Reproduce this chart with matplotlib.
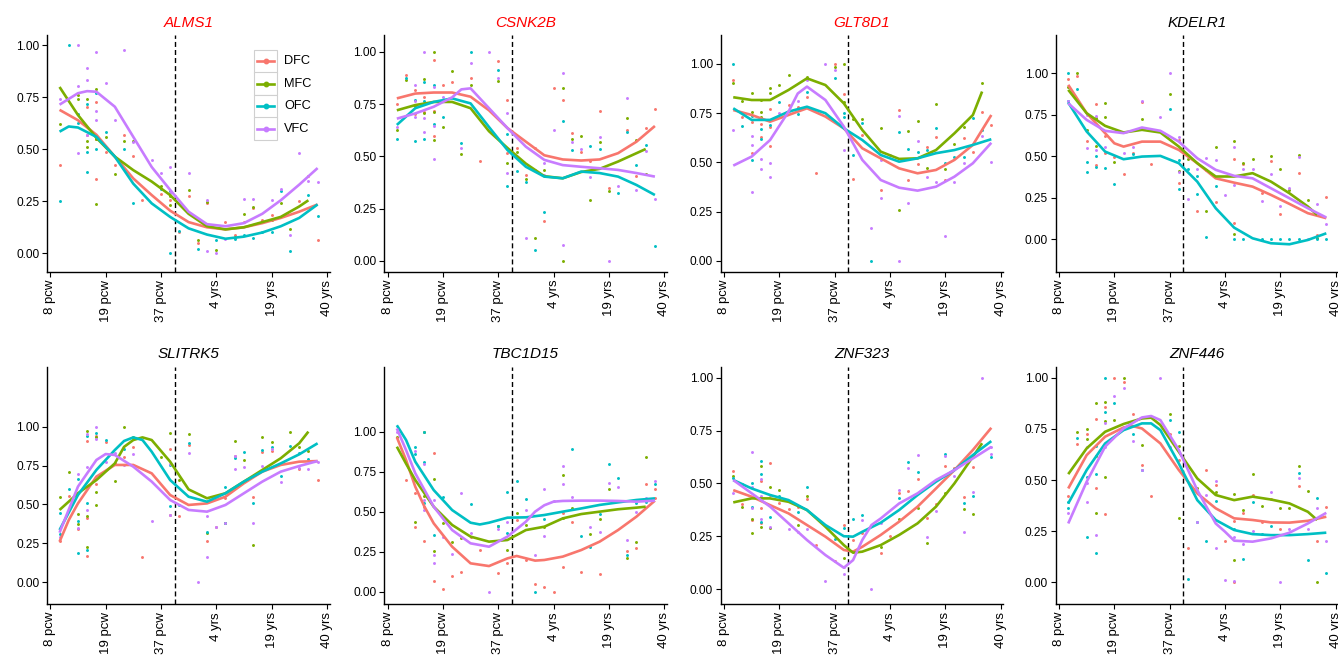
import matplotlib
matplotlib.use("Agg")
import matplotlib.pyplot as plt
from matplotlib.patches import Rectangle
from matplotlib.lines import Line2D

plt.rcParams['font.family'] = ['Liberation Sans', 'DejaVu Sans']

# ---------------- data ----------------
regions = ["DFC", "MFC", "OFC", "VFC"]
region_colors = ["#F8766D", "#7CAE00", "#00BFC4", "#C77CFF"]
age_ticks = ["8 pcw", "19 pcw", "37 pcw", "4 yrs", "19 yrs", "40 yrs"]
birth_pos = 2.25          # position of the birth line on the age axis
sample_step = 1 / 6       # samples sit on a grid of 1/6 of a tick interval (index k)

genes = ["ALMS1", "CSNK2B", "GLT8D1", "KDELR1", "SLITRK5", "TBC1D15", "ZNF323", "ZNF446"]
title_colors = ["red", "red", "red", "black", "black", "black", "black", "black"]

# scatter points per gene: region -> [(sample index k, scaled expression)]
ALMS1_points = {
    "DFC": [(1,.425),(4,.705),(4,.57),(5,.73),(5,.55),(5,.355),(6,.485),(7,.425),(8,.57),(9,.47),(10,.255),(12,.285),(13,.255),(14,.10),(15,.275),(16,.05),(17,.24),(19,.15),(20,.09),(21,.15),(22,.22),(23,.16),(24,.185),(27,.25),(28,.37),(29,.065)],
    "MFC": [(1,.62),(3,.76),(3,.74),(4,.74),(4,.54),(4,.51),(5,.79),(5,.55),(5,.235),(6,.56),(7,.38),(8,.54),(9,.54),(12,.325),(13,.275),(13,.23),(15,.305),(16,.065),(17,.245),(18,.015),(20,.08),(21,.19),(22,.225),(24,.16),(25,.24),(26,.115)],
    "OFC": [(1,.25),(2,1.0),(3,.67),(3,.625),(4,.72),(4,.485),(4,.39),(5,.77),(5,.50),(6,.585),(8,.50),(9,.24),(12,.31),(13,.30),(13,.0),(14,.105),(16,.02),(18,.065),(20,.067),(21,.09),(22,.075),(23,.10),(24,.10),(25,.30),(26,.01),(28,.28),(29,.18)],
    "VFC": [(1,.74),(3,1.0),(3,.805),(3,.48),(4,.89),(4,.835),(4,.57),(5,.97),(5,.685),(5,.64),(6,.82),(7,.64),(8,.98),(9,.535),(11,.45),(12,.385),(13,.415),(13,.29),(15,.385),(17,.255),(17,.01),(18,.0),(19,.067),(21,.26),(22,.26),(24,.255),(25,.31),(26,.09),(27,.48),(28,.35),(29,.345)],
}
CSNK2B_points = {
    "DFC": [(1,.75),(2,.89),(3,.815),(3,.70),(4,.785),(4,.71),(5,.96),(5,.715),(5,.595),(6,.84),(7,.855),(9,.875),(10,.48),(12,.955),(13,.77),(13,.515),(14,.54),(15,.41),(16,.54),(17,.19),(18,.825),(19,.77),(20,.61),(21,.52),(22,.48),(23,.715),(24,.35),(26,.625),(27,.405),(28,.635),(29,.725)],
    "MFC": [(1,.625),(2,.865),(3,.74),(4,.87),(4,.705),(5,1.0),(5,.71),(5,.58),(6,.64),(7,.91),(8,.51),(9,.84),(12,.86),(13,.47),(14,.52),(15,.39),(16,.11),(17,.435),(19,.825),(19,.0),(20,.585),(21,.597),(22,.29),(23,.57),(24,.335),(26,.685),(27,.58),(28,.415)],
    "OFC": [(1,.585),(2,.875),(3,.77),(3,.575),(4,.855),(4,.765),(4,.585),(5,.84),(5,.655),(6,.69),(8,.565),(9,1.0),(12,.915),(13,.605),(13,.36),(14,.43),(15,.375),(16,.05),(17,.235),(19,.67),(20,.53),(22,.55),(23,.535),(25,.325),(26,.615),(27,.46),(28,.555),(29,.073)],
    "VFC": [(1,.64),(3,.84),(3,.765),(3,.69),(4,1.0),(4,.685),(4,.615),(5,.83),(5,.645),(5,.485),(6,.785),(8,.54),(9,.945),(11,1.0),(12,.875),(13,.705),(13,.42),(15,.11),(16,.435),(17,.47),(17,.41),(18,.625),(19,.90),(19,.076),(20,.57),(21,.535),(22,.40),(23,.59),(24,.0),(25,.36),(26,.78),(27,.34),(28,.525),(29,.295)],
}
GLT8D1_points = {
    "DFC": [(1,.92),(2,.733),(3,.707),(3,.547),(4,.694),(4,.631),(5,.77),(5,.682),(5,.584),(7,.792),(8,.78),(9,.834),(10,.445),(12,1.0),(13,.846),(14,.418),(15,.64),(17,.36),(19,.766),(20,.411),(21,.494),(22,.58),(23,.631),(24,.411),(26,.623),(27,.555),(28,.755),(29,.69)],
    "MFC": [(1,.905),(2,.81),(3,.855),(3,.758),(4,.817),(4,.758),(4,.733),(5,.876),(5,.851),(6,.893),(7,.944),(9,.932),(12,.986),(13,1.0),(13,.807),(14,.72),(15,.721),(17,.673),(19,.259),(20,.66),(21,.712),(22,.474),(23,.795),(24,.467),(25,.594),(26,.682),(28,.905)],
    "OFC": [(1,1.0),(2,.685),(3,.736),(3,.513),(4,.668),(4,.618),(5,.69),(6,.809),(8,.746),(9,.86),(12,.927),(13,.75),(13,.729),(14,.538),(15,.70),(16,.0),(19,.653),(20,.569),(21,.552),(22,.563),(23,.673),(24,.496),(25,.53),(26,.53),(27,.724),(28,.665)],
    "VFC": [(1,.665),(3,.635),(3,.59),(3,.352),(4,.516),(4,.465),(5,.496),(5,.425),(6,.753),(7,.761),(8,.81),(9,.92),(11,1.0),(12,.97),(13,.563),(16,.166),(17,.513),(17,.318),(18,.538),(19,.736),(19,.0),(20,.293),(21,.611),(22,.425),(23,.403),(24,.129),(25,.40),(26,.499),(28,.635),(29,.504)],
}
KDELR1_points = {
    "DFC": [(1,.966),(2,.986),(3,.594),(4,.815),(4,.448),(5,.622),(5,.518),(6,.498),(7,.394),(8,.518),(9,.827),(10,.452),(13,.598),(13,.337),(15,.173),(16,.418),(17,.223),(19,.482),(19,.10),(20,.452),(22,.281),(23,.474),(24,.151),(26,.402),(28,.026),(29,.253)],
    "MFC": [(1,.916),(2,1.0),(3,.655),(4,.733),(4,.564),(5,.819),(5,.735),(6,.468),(9,.725),(12,.873),(13,.412),(14,.482),(16,.173),(17,.558),(19,.592),(19,.032),(20,.462),(21,.482),(23,.504),(24,.422),(25,.297),(26,.508),(27,.237),(28,.01)],
    "OFC": [(1,1.0),(1,.83),(2,.904),(3,.466),(3,.404),(4,.502),(4,.434),(5,.428),(6,.333),(8,.514),(9,.669),(12,.783),(13,.478),(13,.303),(14,.422),(15,.382),(15,.273),(16,.012),(17,.321),(19,0),(20,0),(22,0),(23,0),(24,0),(25,0),(26,0),(28,0),(29,0)],
    "VFC": [(1,.83),(3,.749),(3,.552),(4,.745),(4,.538),(5,.558),(7,.518),(8,.556),(9,.835),(11,.739),(12,1.0),(13,.618),(13,.408),(14,.241),(15,.422),(16,.488),(17,.478),(18,.267),(19,.558),(19,.327),(20,.422),(21,.422),(22,.231),(23,.392),(24,.203),(25,.307),(26,.498),(27,0),(28,.211),(29,.09)],
}
SLITRK5_points = {
    "DFC": [(1,.268),(2,.557),(3,.34),(4,.908),(4,.411),(4,.169),(5,.94),(5,.63),(6,.904),(7,.769),(8,.807),(9,.871),(10,.161),(13,.854),(13,.433),(14,.426),(15,.882),(17,.266),(18,.353),(19,.54),(20,.812),(22,.546),(23,.839),(24,.844),(27,.726),(29,.657)],
    "MFC": [(1,.546),(2,.711),(3,.439),(3,.375),(4,.974),(4,.426),(4,.225),(5,.931),(5,.578),(5,.497),(7,.651),(8,1.0),(9,.931),(12,.807),(13,.957),(14,.657),(15,.953),(17,.319),(19,.379),(20,.91),(21,.786),(22,.24),(23,.936),(24,.904),(26,.968),(27,.867),(28,.846)],
    "OFC": [(1,.443),(1,.31),(2,.602),(3,.664),(3,.396),(3,.186),(4,.94),(4,.508),(4,.208),(5,.957),(6,.914),(8,.854),(13,.754),(13,.49),(14,.497),(15,.893),(17,.325),(19,.615),(19,.383),(20,.80),(21,.839),(22,.508),(23,.85),(24,.867),(25,.683),(26,.876),(27,.833),(28,.79)],
    "VFC": [(1,.289),(3,.696),(3,.347),(4,.955),(4,.743),(4,.465),(5,1.0),(5,.918),(6,.775),(7,.833),(8,.754),(9,.822),(11,.396),(13,.76),(13,.433),(15,.833),(16,0),(17,.426),(17,.161),(18,.353),(19,.379),(20,.812),(20,.726),(21,.743),(22,.379),(23,.747),(24,.854),(25,.642),(27,.732),(28,.726),(29,.771)],
}
TBC1D15_points = {
    "DFC": [(2,.698),(3,.615),(3,.402),(4,.531),(4,.319),(5,.869),(5,.069),(6,.019),(7,.098),(8,.125),(9,.344),(10,.26),(12,.115),(13,.181),(14,.448),(15,.198),(16,.048),(17,.031),(18,0),(19,.49),(19,.156),(20,.4375),(21,.125),(23,.108),(26,.256),(27,.271),(28,.673),(29,.642),(29,.583)],
    "MFC": [(1,.965),(3,.4375),(4,1.0),(4,.60),(5,.704),(5,.254),(6,.431),(7,.308),(8,.333),(12,.4125),(13,.26),(14,.49),(15,.417),(17,.402),(19,.729),(19,.458),(20,.521),(22,.36),(23,.456),(24,.64),(26,.208),(27,.308),(28,.844)],
    "OFC": [(3,.902),(3,.858),(4,1.0),(4,.808),(4,.552),(5,.354),(6,.594),(9,.548),(12,.41),(13,.621),(13,.369),(14,.694),(15,.577),(16,0),(17,.452),(20,.89),(21,.348),(22,.277),(23,.483),(24,.796),(25,.708),(26,.229),(27,.556),(28,.5625),(29,.673)],
    "VFC": [(1,1.0),(3,.881),(4,.798),(4,.573),(4,.51),(5,.573),(5,.229),(5,.181),(6,.34),(7,.235),(8,.615),(9,.369),(11,0),(12,.39),(13,.4375),(15,.51),(16,.229),(17,.644),(17,.35),(18,.567),(19,.785),(19,.673),(20,.59),(22,.402),(23,.375),(24,.677),(25,.652),(26,.323),(27,.5),(28,.588),(29,.694)],
}
ZNF323_points = {
    "DFC": [(1,.558),(2,.402),(3,.326),(4,.513),(4,.382),(4,.311),(5,.598),(5,.445),(6,.409),(7,.377),(8,.39),(9,.424),(10,.208),(12,.134),(13,.303),(14,.232),(15,.267),(17,.169),(18,.25),(19,.453),(20,.464),(21,.519),(22,.334),(23,.402),(24,.582),(25,.571),(26,.434),(27,.579)],
    "MFC": [(1,.536),(2,.39),(3,.33),(3,.267),(4,.584),(4,.292),(5,.484),(5,.287),(6,.468),(7,.418),(8,.303),(9,.442),(13,.145),(17,.197),(19,.33),(21,.382),(22,.216),(24,.456),(26,.377),(27,.353)],
    "OFC": [(1,.527),(2,.497),(3,.50),(3,.39),(4,.606),(4,.544),(4,.319),(5,.339),(6,.44),(8,.366),(9,.481),(12,.237),(13,.287),(14,.331),(15,.35),(19,.432),(20,.603),(21,.555),(24,.639),(25,.566),(26,.405),(27,.442),(29,.626)],
    "VFC": [(1,.456),(3,.647),(3,.484),(3,.382),(4,.519),(4,.44),(4,.33),(5,.295),(7,.284),(8,.271),(9,.282),(11,.038),(13,.106),(13,.069),(15,.326),(16,0),(17,.314),(19,.468),(20,.571),(21,.632),(22,.248),(23,.369),(24,.631),(25,.536),(26,.268),(27,.457),(28,1.0),(29,.673),(29,.639)],
}
ZNF446_points = {
    "DFC": [(1,.422),(2,.674),(3,.725),(4,.798),(4,.459),(5,.855),(5,.332),(6,1.0),(7,.98),(8,.822),(9,.573),(10,.423),(12,.723),(13,.598),(14,.166),(16,.549),(17,.476),(18,.204),(19,.301),(19,0),(20,.337),(21,.427),(22,.296),(23,.407),(24,.259),(26,.471),(28,.202),(29,.37)],
    "MFC": [(2,.733),(3,.749),(3,.699),(4,.878),(4,.617),(4,.337),(5,.883),(5,.79),(5,.516),(6,.796),(7,1.0),(9,.671),(12,.821),(13,.668),(13,.313),(15,.459),(17,.44),(19,.43),(19,.109),(20,.353),(21,.528),(22,.373),(24,.365),(25,.362),(26,.57),(27,.448),(28,0)],
    "OFC": [(1,.391),(1,.365),(2,.704),(3,.516),(3,.22),(4,.668),(4,.529),(4,.142),(5,1.0),(5,.831),(6,.875),(8,.725),(9,.549),(12,.796),(13,.736),(14,.015),(15,.296),(16,.202),(17,.40),(19,.26),(20,.112),(21,.391),(22,.236),(23,.277),(26,.533),(27,.109),(28,.414),(29,.044)],
    "VFC": [(1,.34),(3,.663),(3,.487),(3,.391),(4,.231),(5,.777),(5,.66),(6,.91),(7,.948),(8,.692),(9,.549),(11,1.0),(12,.66),(15,.296),(16,.427),(17,.497),(17,.166),(18,.011),(19,.22),(19,.006),(20,.19),(21,.251),(23,.44),(24,0),(25,.26),(26,.511),(27,.259),(28,.362),(29,.202)],
}

# smoothed trend per gene: region -> [(sample index k, value)]
ALMS1_smooth = {
    "DFC": [(1,.69),(3,.64),(5,.57),(7,.465),(9,.36),(11,.28),(13,.205),(15,.15),(17,.125),(19,.115),(21,.125),(23,.145),(25,.17),(27,.20),(29,.235)],
    "MFC": [(1,.80),(3,.665),(5,.555),(7,.465),(9,.40),(11,.345),(13,.28),(15,.19),(17,.13),(19,.115),(21,.125),(23,.15),(25,.175),(27,.225),(28,.255)],
    "OFC": [(1,.585),(2,.61),(3,.605),(5,.56),(7,.465),(9,.335),(11,.24),(13,.175),(15,.12),(17,.09),(19,.07),(21,.08),(23,.10),(25,.13),(27,.17),(29,.235)],
    "VFC": [(1,.715),(3,.77),(4,.78),(5,.777),(7,.705),(9,.56),(11,.415),(13,.305),(15,.20),(17,.14),(19,.13),(21,.145),(23,.19),(25,.255),(27,.33),(29,.41)],
}
CSNK2B_smooth = {
    "DFC": [(1,.777),(3,.80),(5,.805),(7,.805),(9,.785),(11,.72),(13,.635),(15,.57),(17,.505),(19,.485),(21,.48),(23,.485),(25,.515),(27,.57),(29,.645)],
    "MFC": [(1,.72),(3,.745),(5,.76),(7,.76),(9,.73),(11,.62),(13,.54),(15,.465),(17,.405),(19,.395),(21,.425),(23,.44),(25,.475),(27,.515),(28,.535)],
    "OFC": [(1,.65),(3,.73),(5,.76),(7,.777),(9,.753),(11,.64),(13,.53),(15,.45),(17,.403),(19,.395),(21,.427),(23,.42),(25,.403),(27,.363),(29,.315)],
    "VFC": [(1,.68),(3,.705),(5,.737),(7,.782),(8,.82),(9,.825),(11,.73),(13,.635),(15,.546),(17,.483),(19,.458),(21,.45),(23,.443),(25,.435),(27,.42),(29,.403)],
}
GLT8D1_smooth = {
    "DFC": [(1,.766),(3,.741),(5,.707),(7,.741),(9,.775),(11,.733),(13,.673),(15,.572),(17,.521),(19,.47),(21,.445),(23,.462),(25,.513),(27,.589),(29,.741)],
    "MFC": [(1,.831),(3,.817),(5,.817),(7,.868),(9,.927),(11,.893),(13,.80),(15,.665),(17,.555),(19,.518),(21,.521),(23,.563),(25,.648),(27,.741),(28,.86)],
    "OFC": [(1,.775),(3,.716),(5,.716),(7,.758),(9,.783),(11,.75),(13,.673),(15,.614),(17,.538),(19,.504),(21,.521),(23,.547),(25,.563),(27,.589),(29,.618)],
    "VFC": [(1,.484),(3,.53),(5,.614),(7,.758),(8,.85),(9,.885),(11,.817),(13,.682),(15,.513),(17,.411),(19,.372),(21,.357),(23,.377),(25,.428),(27,.496),(29,.60)],
}
KDELR1_smooth = {
    "DFC": [(1,.93),(3,.759),(5,.639),(6,.578),(7,.558),(9,.588),(11,.588),(13,.538),(15,.458),(17,.367),(19,.341),(21,.317),(23,.267),(25,.213),(27,.157),(29,.127)],
    "MFC": [(1,.90),(3,.759),(5,.683),(7,.643),(9,.659),(11,.643),(13,.558),(15,.458),(17,.378),(19,.378),(21,.398),(23,.347),(25,.277),(27,.197),(28,.147)],
    "OFC": [(1,.823),(3,.649),(5,.528),(7,.482),(9,.498),(11,.502),(13,.458),(15,.347),(17,.187),(19,.07),(21,.006),(23,-.024),(25,-.03),(27,-.004),(29,.036)],
    "VFC": [(1,.819),(3,.719),(5,.653),(7,.639),(9,.673),(11,.653),(13,.588),(15,.488),(17,.418),(19,.382),(21,.367),(23,.307),(25,.247),(27,.187),(29,.131)],
}
SLITRK5_smooth = {
    "DFC": [(1,.261),(2,.40),(3,.507),(5,.679),(7,.754),(9,.754),(11,.70),(13,.561),(15,.497),(17,.507),(19,.55),(21,.636),(23,.711),(25,.754),(27,.775),(29,.779)],
    "MFC": [(1,.465),(3,.572),(5,.657),(7,.764),(8,.87),(9,.914),(10,.931),(11,.914),(13,.775),(15,.597),(17,.54),(19,.572),(21,.647),(23,.722),(25,.797),(27,.893),(28,.968)],
    "OFC": [(1,.336),(3,.561),(5,.722),(7,.85),(8,.908),(9,.931),(10,.914),(11,.839),(13,.657),(15,.55),(17,.518),(19,.572),(21,.647),(23,.711),(25,.764),(27,.822),(29,.893)],
    "VFC": [(1,.319),(3,.615),(5,.786),(6,.824),(7,.818),(9,.743),(11,.647),(13,.529),(15,.465),(17,.454),(19,.497),(21,.572),(23,.647),(25,.711),(27,.747),(29,.779)],
}
TBC1D15_smooth = {
    "DFC": [(1,.965),(2,.823),(3,.656),(4,.531),(5,.427),(7,.281),(9,.177),(11,.16),(13,.208),(14,.223),(16,.194),(17,.198),(19,.219),(21,.26),(23,.3125),(25,.385),(27,.469),(29,.569)],
    "MFC": [(1,.906),(2,.80),(3,.698),(5,.531),(7,.417),(9,.344),(11,.3125),(13,.323),(15,.385),(17,.406),(19,.458),(21,.485),(23,.50),(25,.515),(27,.525),(28,.531)],
    "OFC": [(1,1.04),(2,.948),(3,.8125),(5,.635),(7,.51),(9,.431),(10,.42),(11,.431),(13,.4625),(15,.4645),(17,.479),(19,.50),(21,.52),(23,.542),(25,.558),(27,.573),(29,.583)],
    "VFC": [(1,1.02),(2,.885),(3,.74),(5,.531),(7,.385),(9,.302),(11,.281),(13,.344),(15,.4375),(16,.50),(17,.54),(18,.5625),(19,.567),(21,.569),(23,.569),(25,.567),(27,.5625),(29,.569)],
}
ZNF323_smooth = {
    "DFC": [(1,.468),(3,.437),(5,.397),(7,.358),(9,.303),(11,.248),(13,.185),(14,.177),(15,.20),(17,.256),(19,.319),(21,.39),(23,.476),(25,.563),(27,.658),(29,.763)],
    "MFC": [(1,.41),(3,.429),(5,.429),(7,.413),(9,.374),(11,.295),(13,.208),(14,.172),(15,.177),(17,.208),(19,.256),(21,.311),(23,.39),(25,.50),(27,.626),(28,.69)],
    "OFC": [(1,.516),(3,.476),(5,.445),(7,.421),(9,.374),(11,.303),(13,.25),(14,.248),(15,.271),(17,.314),(19,.374),(21,.445),(23,.508),(25,.563),(27,.634),(29,.70)],
    "VFC": [(1,.516),(3,.453),(5,.39),(7,.311),(9,.232),(11,.161),(13,.101),(14,.137),(15,.232),(16,.303),(17,.334),(19,.405),(21,.453),(23,.516),(25,.563),(27,.618),(29,.673)],
}
ZNF446_smooth = {
    "DFC": [(1,.459),(3,.622),(5,.712),(7,.757),(8,.764),(9,.752),(11,.679),(13,.549),(15,.435),(17,.362),(19,.313),(21,.305),(23,.293),(25,.292),(27,.301),(29,.321)],
    "MFC": [(1,.529),(3,.655),(5,.736),(7,.774),(9,.801),(10,.805),(11,.769),(13,.638),(15,.508),(17,.427),(19,.402),(21,.419),(23,.405),(25,.386),(27,.345),(28,.305)],
    "OFC": [(1,.386),(3,.549),(5,.679),(7,.744),(9,.777),(10,.777),(11,.744),(13,.581),(15,.402),(17,.305),(19,.256),(21,.236),(23,.231),(25,.231),(27,.236),(29,.243)],
    "VFC": [(1,.288),(3,.492),(5,.663),(7,.752),(9,.806),(10,.813),(11,.793),(13,.647),(15,.451),(17,.288),(18,.248),(19,.204),(21,.199),(23,.215),(25,.243),(27,.288),(29,.34)],
}

gene_points = [ALMS1_points, CSNK2B_points, GLT8D1_points, KDELR1_points,
               SLITRK5_points, TBC1D15_points, ZNF323_points, ZNF446_points]
gene_smooth = [ALMS1_smooth, CSNK2B_smooth, GLT8D1_smooth, KDELR1_smooth,
               SLITRK5_smooth, TBC1D15_smooth, ZNF323_smooth, ZNF446_smooth]

# ---------------- layout ----------------
W, H = 1338, 655
panel_ylims = [(-0.09, 1.05), (-0.053, 1.08), (-0.056, 1.147), (-0.197, 1.23),
               (-0.141, 1.385), (-0.079, 1.406), (-0.072, 1.052), (-0.107, 1.054)]
col_left = [47, 384.3, 720.7, 1055.7]
row_top = [35, 366.7]
row_bottom = [272, 604.3]
ax_w = 282.6

fig = plt.figure(figsize=(W / 100, H / 100), dpi=100)

for i, gene in enumerate(genes):
    r, c = divmod(i, 4)
    left = col_left[c]
    top, bot = row_top[r], row_bottom[r]
    ax = fig.add_axes([left / W, 1 - bot / H, ax_w / W, (bot - top) / H])

    pts = gene_points[i]
    sm = gene_smooth[i]
    for reg, col in zip(regions, region_colors):
        xs = [k * sample_step for k, _ in pts[reg]]
        ys = [v for _, v in pts[reg]]
        ax.scatter(xs, ys, s=4.5, color=col, linewidths=0, zorder=2)
    ax.axvline(birth_pos, color="black", lw=1.0, ls=(0, (3.6, 2.2)), zorder=2.5)
    for reg, col in zip(regions, region_colors):
        xs = [k * sample_step for k, _ in sm[reg]]
        ys = [v for _, v in sm[reg]]
        ax.plot(xs, ys, color=col, lw=1.9, solid_capstyle="butt",
                solid_joinstyle="round", zorder=3)

    ax.set_xlim(-0.06, 5.05)
    ax.set_ylim(*panel_ylims[i])
    ax.set_xticks(range(len(age_ticks)))
    ax.set_xticklabels(age_ticks, rotation=90, va="top", ha="center")
    ax.set_yticks([0, 0.25, 0.5, 0.75, 1.0])
    ax.set_yticklabels(["0.00", "0.25", "0.50", "0.75", "1.00"])
    ax.tick_params(direction="out", length=3.5, width=0.8, pad=2, colors="black")
    ax.tick_params(axis="y", labelsize=8.6)
    ax.tick_params(axis="x", labelsize=9.5)
    for s in ("top", "right"):
        ax.spines[s].set_visible(False)
    for s in ("left", "bottom"):
        ax.spines[s].set_linewidth(1.0)
    ax.set_title(gene, fontstyle="italic", color=title_colors[i],
                 fontsize=11, pad=6)

    if i == 0:
        # legend with boxed keys
        bx, bw = (254 - left) / ax_w, 23 / ax_w
        bh = 22.5 / (bot - top)
        y0 = 1 - (50 - top) / (bot - top)
        for j, (reg, col) in enumerate(zip(regions, region_colors)):
            ytop = y0 - j * bh
            ax.add_patch(Rectangle((bx, ytop - bh), bw, bh, transform=ax.transAxes,
                                   facecolor="white", edgecolor="#d0d0d0", lw=0.8,
                                   zorder=4, clip_on=False))
            ym = ytop - bh / 2
            ax.add_line(Line2D([bx + 0.12 * bw, bx + 0.88 * bw], [ym, ym],
                               transform=ax.transAxes, color=col, lw=1.9,
                               marker=None, zorder=5))
            ax.add_line(Line2D([bx + 0.5 * bw], [ym], transform=ax.transAxes,
                               color=col, marker="o", markersize=3.2, lw=0, zorder=6))
            ax.text(bx + bw + 7 / ax_w, ym, reg, transform=ax.transAxes,
                    fontsize=9.2, va="center", ha="left", color="black", zorder=6)

fig.savefig("out.png", dpi=100)
